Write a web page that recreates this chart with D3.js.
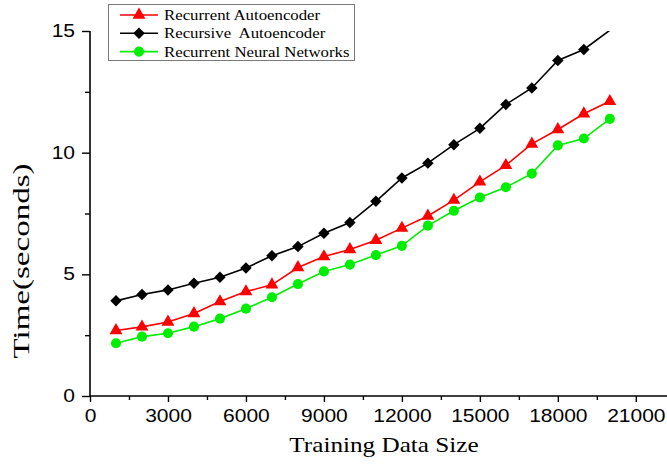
<!DOCTYPE html>
<html>
<head>
<meta charset="utf-8">
<script src="https://cdn.jsdelivr.net/npm/d3@7/dist/d3.min.js"></script>
<style>
  html, body { margin: 0; padding: 0; background: #fff; }
  svg { display: block; }
</style>
</head>
<body>
<svg id="chart" width="667" height="464"></svg>
<script>
// ---- data ----
const trainingSizes = [1000, 2000, 3000, 4000, 5000, 6000, 7000, 8000, 9000, 10000,
                       11000, 12000, 13000, 14000, 15000, 16000, 17000, 18000, 19000, 20000];
const recurrentAutoencoder = [2.69, 2.84, 3.04, 3.39, 3.88, 4.29, 4.57, 5.28, 5.73, 6.02,
                              6.40, 6.90, 7.40, 8.05, 8.80, 9.48, 10.36, 10.95, 11.60, 12.11];
const recursiveAutoencoder = [3.91, 4.17, 4.36, 4.63, 4.88, 5.26, 5.76, 6.14, 6.69, 7.13,
                              8.00, 8.96, 9.57, 10.33, 11.00, 11.98, 12.66, 13.79, 14.24, 15.03];
const recurrentNeuralNetworks = [2.17, 2.44, 2.58, 2.85, 3.18, 3.59, 4.06, 4.60, 5.12, 5.40,
                                 5.79, 6.17, 7.00, 7.61, 8.16, 8.58, 9.14, 10.30, 10.58, 11.39];
const seriesNames = ["Recurrent Autoencoder", "Recursive  Autoencoder", "Recurrent Neural Networks"];
const xTickValues = [0, 3000, 6000, 9000, 12000, 15000, 18000, 21000];
const xMinorTickValues = [1500, 4500, 7500, 10500, 13500, 16500, 19500];
const yTickValues = [0, 5, 10, 15];
const yMinorTickValues = [2.5, 7.5, 12.5];
const xDomain = [0, 22200];
const yDomain = [0, 15];

// ---- layout ----
const SX = 1.2; // horizontal text stretch seen in the reference
const svg = d3.select("#chart");
const mLeft = 90, mRight = 667, mTop = 31, mBottom = 396;
const x = d3.scaleLinear().domain(xDomain).range([mLeft, mRight]);
const y = d3.scaleLinear().domain(yDomain).range([mBottom, mTop]);

const series = [
  { name: seriesNames[0], values: recurrentAutoencoder, color: "#ff0000", symbol: d3.symbolTriangle, size: 72, rot: 0 },
  { name: seriesNames[1], values: recursiveAutoencoder, color: "#000000", symbol: d3.symbolSquare, size: 66, rot: 45 },
  { name: seriesNames[2], values: recurrentNeuralNetworks, color: "#00ee00", symbol: d3.symbolCircle, size: 80, rot: 0 }
];

svg.append("defs").append("clipPath").attr("id", "plotclip")
  .append("rect").attr("x", mLeft).attr("y", mTop).attr("width", mRight - mLeft).attr("height", mBottom - mTop + 10);

// ---- axes ----
const xAxis = svg.append("g").attr("transform", `translate(0,${mBottom})`)
  .call(d3.axisBottom(x).tickValues(xTickValues).tickSize(6).tickPadding(8).tickFormat(d3.format("d")));
svg.append("g").attr("transform", `translate(0,${mBottom})`)
  .call(d3.axisBottom(x).tickValues(xMinorTickValues).tickSize(4).tickFormat(""))
  .call(g => g.select(".domain").remove());
const yAxis = svg.append("g").attr("transform", `translate(${mLeft},0)`)
  .call(d3.axisLeft(y).tickValues(yTickValues).tickSize(8).tickPadding(7).tickFormat(d3.format("d")));
svg.append("g").attr("transform", `translate(${mLeft},0)`)
  .call(d3.axisLeft(y).tickValues(yMinorTickValues).tickSize(5).tickFormat(""))
  .call(g => g.select(".domain").remove());

svg.selectAll(".domain").attr("stroke", "#000").attr("stroke-width", 1.6);
svg.selectAll(".tick line").attr("stroke", "#000").attr("stroke-width", 1.4);
xAxis.selectAll(".domain").attr("d", `M${mLeft},0H${mRight}`);
yAxis.selectAll(".domain").attr("d", `M0,${mBottom}V${mTop}`);

svg.selectAll(".tick text")
  .attr("font-family", "'Liberation Sans', Arial, sans-serif")
  .attr("font-size", 17.5)
  .attr("fill", "#000");
xAxis.selectAll(".tick text").attr("transform", `scale(${SX},1)`);
yAxis.selectAll(".tick text").attr("x", -15 / SX).attr("transform", `scale(${SX},1)`);

// ---- axis titles ----
svg.append("text")
  .attr("transform", `translate(384,452) scale(${SX},1)`)
  .attr("text-anchor", "middle")
  .attr("font-family", "'Liberation Serif', 'Times New Roman', serif")
  .attr("font-size", 21)
  .text("Training Data Size");
svg.append("text")
  .attr("transform", `translate(29,261) scale(${SX},1) rotate(-90)`)
  .attr("text-anchor", "middle")
  .attr("font-family", "'Liberation Serif', 'Times New Roman', serif")
  .attr("font-size", 19)
  .attr("textLength", 195)
  .attr("lengthAdjust", "spacingAndGlyphs")
  .text("Time(seconds)");

// ---- series ----
const plot = svg.append("g").attr("clip-path", "url(#plotclip)");
const line = d3.line().x((d, i) => x(trainingSizes[i])).y(d => y(d));
series.forEach(s => {
  plot.append("path")
    .attr("d", line(s.values))
    .attr("fill", "none")
    .attr("stroke", s.color)
    .attr("stroke-width", 1.6);
  plot.selectAll(null)
    .data(s.values.map((v, i) => ({ v, i })).filter(d => d.v <= yDomain[1]))
    .join("path")
    .attr("transform", d => `translate(${x(trainingSizes[d.i])},${y(d.v)}) rotate(${s.rot})`)
    .attr("d", d3.symbol().type(s.symbol).size(s.size)())
    .attr("fill", s.color);
});

// ---- legend ----
const lg = svg.append("g");
lg.append("rect").attr("x", 108.5).attr("y", 4.5).attr("width", 246).attr("height", 56)
  .attr("fill", "#fff").attr("stroke", "#7a7a7a").attr("stroke-width", 1);
series.forEach((s, k) => {
  const cy = 15 + k * 18.3;
  lg.append("line").attr("x1", 120).attr("x2", 158).attr("y1", cy).attr("y2", cy)
    .attr("stroke", s.color).attr("stroke-width", 1.6);
  lg.append("path").attr("transform", `translate(139,${cy}) rotate(${s.rot})`)
    .attr("d", d3.symbol().type(s.symbol).size(s.size)()).attr("fill", s.color);
  lg.append("text")
    .attr("transform", `translate(164,${cy + 5}) scale(${SX},1)`)
    .attr("font-family", "'Liberation Serif', 'Times New Roman', serif")
    .attr("font-size", 14)
    .style("white-space", "pre")
    .text(s.name);
});
</script>
</body>
</html>
